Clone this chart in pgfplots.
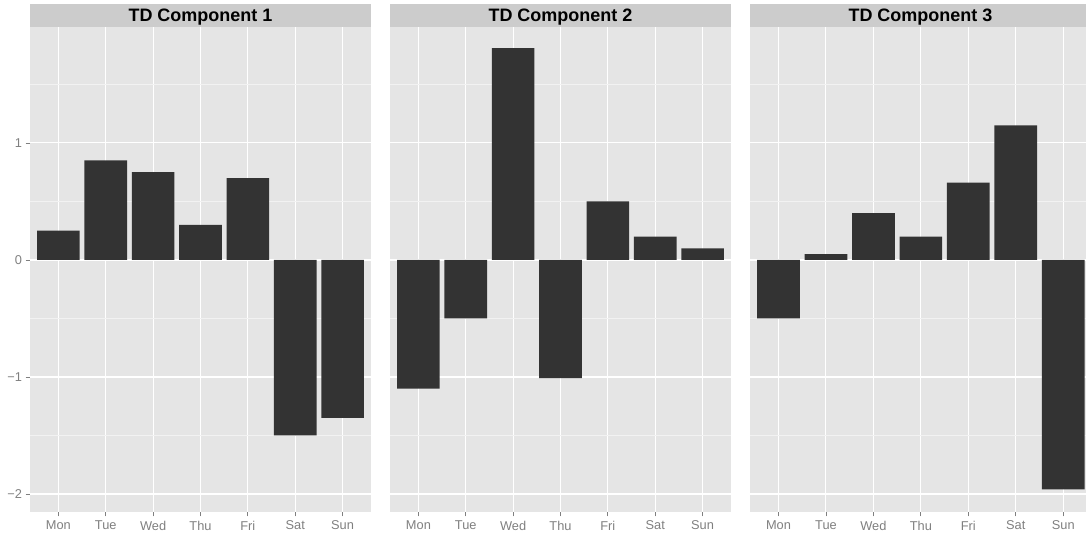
\documentclass[border=0pt]{standalone}
\usepackage{pgfplots}
\pgfplotsset{compat=1.18}
\usepackage{fontspec}
\setmainfont{Liberation Sans}
\definecolor{bg}{HTML}{E5E5E5}
\definecolor{strip}{HTML}{CCCCCC}
\definecolor{barc}{HTML}{333333}
\definecolor{tk}{HTML}{7F7F7F}
\definecolor{mg}{HTML}{F2F2F2}
\pgfplotsset{
  panel/.style={
    scale only axis, width=341pt, height=485pt, anchor=south west,
    xmin=-0.6, xmax=6.6, ymin=-2.154, ymax=1.991,
    axis background/.style={fill=bg},
    axis line style={draw=none},
    xtick={0,...,6}, xticklabels={Mon,Tue,Wed,Thu,Fri,Sat,Sun},
    ytick={-2,-1,0,1}, minor ytick={-1.5,-0.5,0.5,1.5},
    xmajorgrids, ymajorgrids, yminorgrids,
    major grid style={white, line width=1.1pt},
    minor grid style={mg, line width=0.55pt},
    tick align=outside, major tick length=4.5pt, minor tick length=0pt,
    tick style={tk, line width=0.8pt},
    xtick pos=bottom, ytick pos=left,
    ticklabel style={font=\fontsize{12.8}{14}\selectfont, text=tk},
    xticklabel style={yshift=-1pt},
    clip=false,
  },
  bars/.style={ybar, bar width=0.9, fill=barc, draw=none, bar shift=0pt},
}
\begin{document}
\begin{tikzpicture}
\useasboundingbox (0pt,0pt) rectangle (1086pt,534pt);
% strips
\foreach \x/\w/\t in {30/341/1,390/341/2,750/336/3}{
  \fill[strip] (\x pt,507pt) rectangle ++(\w pt,23pt);
}
\node[anchor=base, inner sep=0pt, font=\fontsize{18}{20}\selectfont\bfseries] at (200.5pt,512.2pt) {TD Component 1};
\node[anchor=base, inner sep=0pt, font=\fontsize{18}{20}\selectfont\bfseries] at (560.5pt,512.2pt) {TD Component 2};
\node[anchor=base, inner sep=0pt, font=\fontsize{18}{20}\selectfont\bfseries] at (920.5pt,512.2pt) {TD Component 3};
\begin{axis}[panel, at={(30pt,22pt)}, yticklabels={−2,−1,0,1}]
\addplot[bars] coordinates {(0,0.25) (1,0.85) (2,0.75) (3,0.30) (4,0.70) (5,-1.50) (6,-1.35)};
\end{axis}
\begin{axis}[panel, at={(390pt,22pt)}, yticklabels={}, ytick style={draw=none}]
\addplot[bars] coordinates {(0,-1.10) (1,-0.50) (2,1.81) (3,-1.01) (4,0.50) (5,0.20) (6,0.10)};
\end{axis}
\begin{axis}[panel, at={(750pt,22pt)}, width=336pt, xmax=6.48, yticklabels={}, ytick style={draw=none}]
\addplot[bars] coordinates {(0,-0.50) (1,0.05) (2,0.40) (3,0.20) (4,0.66) (5,1.15) (6,-1.96)};
\end{axis}
\end{tikzpicture}
\end{document}
